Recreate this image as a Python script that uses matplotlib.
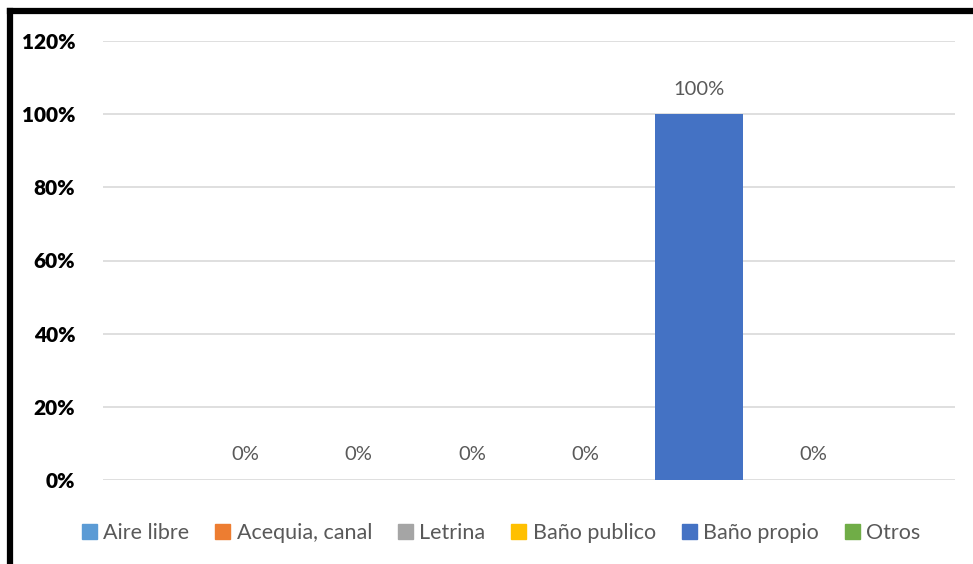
import matplotlib.pyplot as plt
from matplotlib.lines import Line2D
from matplotlib.patches import Patch

# datos del gráfico
categorias = ['Aire libre', 'Acequia, canal', 'Letrina', 'Baño publico', 'Baño propio', 'Otros']
valores = [0.0, 0.0, 0.0, 0.0, 1.0, 0.0]
colores = ['#5B9BD5', '#ED7D31', '#A5A5A5', '#FFC000', '#4472C4', '#70AD47']
ticks_y = [0, 0.2, 0.4, 0.6, 0.8, 1.0, 1.2]

plt.rcParams['font.family'] = ['Lato', 'DejaVu Sans']

fig = plt.figure(figsize=(9.73, 5.64), dpi=100)
ax = fig.add_axes([103 / 973, 1 - 480 / 564, 852 / 973, 439 / 564])

posiciones = [i - (len(categorias) - 1) / 2 for i in range(len(categorias))]
ax.bar(posiciones, valores, width=0.775, color=colores, zorder=3)

# etiquetas de datos
for x, v in zip(posiciones, valores):
    ax.annotate(f'{v:.0%}', (x, v), xytext=(0, 18), textcoords='offset points',
                ha='center', va='center', fontsize=14.5, color='#595959')

ax.set_xlim(-3.75, 3.75)
ax.set_ylim(0, 1.2)
ax.set_yticks(ticks_y)
ax.set_yticklabels([f'{t:.0%}' for t in ticks_y], fontsize=15, fontweight='heavy', color='black')
ax.tick_params(axis='y', length=0, pad=20)
ax.set_xticks([])
ax.grid(axis='y', color='#D9D9D9', linewidth=1.2, zorder=0)
for s in ax.spines.values():
    s.set_visible(False)

handles = [Patch(color=c) for c in colores]
fig.legend(handles, categorias, loc='center', bbox_to_anchor=(0.515, 1 - 533 / 564), ncol=6,
           frameon=False, fontsize=15.5, handlelength=0.7, handleheight=0.7,
           handletextpad=0.3, columnspacing=1.2, labelcolor='#595959')

# marco negro (izquierda y arriba)
fig.add_artist(Line2D([10 / 973, 10 / 973], [0, 1 - 11 / 564], color='black', linewidth=4.5,
                      solid_capstyle='projecting', transform=fig.transFigure))
fig.add_artist(Line2D([10 / 973, 1], [1 - 11 / 564, 1 - 11 / 564], color='black', linewidth=4.5,
                      solid_capstyle='projecting', transform=fig.transFigure))

fig.savefig('out.png', dpi=100)
